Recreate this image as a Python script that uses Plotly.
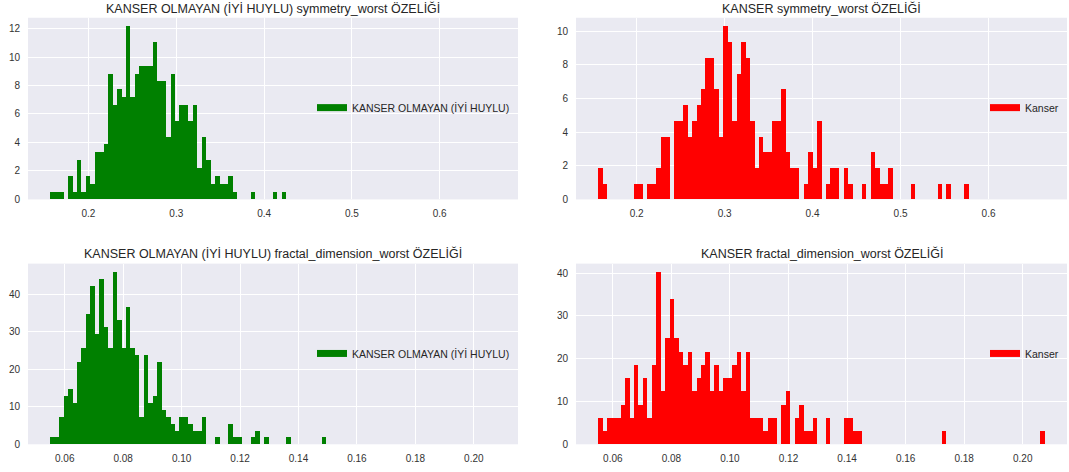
import numpy as np
import plotly.graph_objects as go

# ---------------- data (bin counts, 100 bins each) ----------------
N_BINS = 100
SYM_RANGE = [0.1565, 0.6638]      # symmetry_worst bin range
FD_RANGE = [0.05504, 0.2075]      # fractal_dimension_worst bin range

SYM_BENIGN = [
    1, 1, 1, 0, 3, 1, 5, 1, 3, 2,
    6, 6, 7, 16, 12, 14, 13, 22, 13, 16,
    17, 17, 17, 20, 15, 15, 8, 16, 10, 12,
    12, 10, 12, 4, 8, 5, 2, 3, 2, 2,
    3, 1, 0, 0, 0, 1, 0, 0, 0, 0,
    1, 0, 1, 0, 0, 0, 0, 0, 0, 0,
    0, 0, 0, 0, 0, 0, 0, 0, 0, 0,
    0, 0, 0, 0, 0, 0, 0, 0, 0, 0,
    0, 0, 0, 0, 0, 0, 0, 0, 0, 0,
    0, 0, 0, 0, 0, 0, 0, 0, 0, 0,
]
SYM_MALIGNANT = [
    2, 1, 0, 0, 0, 0, 0, 0, 1, 1,
    0, 1, 1, 2, 4, 4, 0, 5, 5, 6,
    4, 5, 6, 7, 9, 9, 7, 4, 11, 10,
    5, 8, 10, 9, 5, 2, 4, 3, 3, 5,
    5, 7, 3, 2, 2, 0, 1, 3, 2, 5,
    0, 1, 2, 2, 0, 2, 1, 0, 0, 1,
    0, 3, 2, 1, 1, 2, 0, 0, 0, 0,
    1, 0, 0, 0, 0, 0, 1, 0, 1, 0,
    0, 0, 1, 0, 0, 0, 0, 0, 0, 0,
    0, 0, 0, 0, 0, 0, 0, 0, 0, 0,
]
FD_BENIGN = [
    1, 1, 4, 7, 8, 6, 12, 14, 19, 23,
    16, 24, 17, 14, 25, 18, 14, 20, 14, 13,
    4, 13, 6, 7, 12, 5, 4, 3, 2, 4,
    4, 3, 2, 2, 4, 0, 0, 1, 0, 0,
    3, 1, 1, 0, 0, 1, 2, 0, 1, 0,
    0, 0, 0, 1, 0, 0, 0, 0, 0, 0,
    0, 1, 0, 0, 0, 0, 0, 0, 0, 0,
    0, 0, 0, 0, 0, 0, 0, 0, 0, 0,
    0, 0, 0, 0, 0, 0, 0, 0, 0, 0,
    0, 0, 0, 0, 0, 0, 0, 0, 0, 0,
]
FD_MALIGNANT = [
    2, 1, 2, 2, 2, 3, 5, 2, 6, 3,
    5, 2, 6, 13, 4, 8, 11, 8, 7, 6,
    7, 4, 5, 6, 7, 4, 6, 4, 5, 5,
    6, 7, 4, 7, 2, 2, 2, 1, 2, 2,
    0, 3, 4, 0, 2, 3, 1, 1, 2, 0,
    0, 2, 0, 0, 0, 2, 2, 1, 1, 0,
    0, 0, 0, 0, 0, 0, 0, 0, 0, 0,
    0, 0, 0, 0, 0, 0, 0, 1, 0, 0,
    0, 0, 0, 0, 0, 0, 0, 0, 0, 0,
    0, 0, 0, 0, 0, 0, 0, 0, 0, 1,
]

SYM_TICKS = [0.2, 0.3, 0.4, 0.5, 0.6]
SYM_TICK_LABELS = ["0.2", "0.3", "0.4", "0.5", "0.6"]
FD_TICKS = [0.06, 0.08, 0.10, 0.12, 0.14, 0.16, 0.18, 0.20]
FD_TICK_LABELS = ["0.06", "0.08", "0.10", "0.12", "0.14", "0.16", "0.18", "0.20"]

LABEL_B = "KANSER OLMAYAN (İYİ HUYLU)"
LABEL_M = "Kanser"
TITLES = [
    "KANSER OLMAYAN (İYİ HUYLU) symmetry_worst ÖZELİĞİ",
    "KANSER symmetry_worst ÖZELİĞİ",
    "KANSER OLMAYAN (İYİ HUYLU) fractal_dimension_worst ÖZELİĞİ",
    "KANSER fractal_dimension_worst ÖZELİĞİ",
]

GREEN = "#008000"
RED = "#FF0000"
FONT = "Liberation Sans, Arial, sans-serif"
TXT = "#262626"
W, H = 1069, 472


def density(counts, rng):
    c = np.asarray(counts, dtype=float)
    edges = np.linspace(rng[0], rng[1], N_BINS + 1)
    width = edges[1] - edges[0]
    centers = (edges[:-1] + edges[1:]) / 2
    return centers, c / (c.sum() * width), width


panels = [
    dict(counts=SYM_BENIGN, rng=SYM_RANGE, color=GREEN, name=LABEL_B, ticks=SYM_TICKS,
         tlabels=SYM_TICK_LABELS, dy=2, col=0, row=0),
    dict(counts=SYM_MALIGNANT, rng=SYM_RANGE, color=RED, name=LABEL_M, ticks=SYM_TICKS,
         tlabels=SYM_TICK_LABELS, dy=2, col=1, row=0),
    dict(counts=FD_BENIGN, rng=FD_RANGE, color=GREEN, name=LABEL_B, ticks=FD_TICKS,
         tlabels=FD_TICK_LABELS, dy=10, col=0, row=1),
    dict(counts=FD_MALIGNANT, rng=FD_RANGE, color=RED, name=LABEL_M, ticks=FD_TICKS,
         tlabels=FD_TICK_LABELS, dy=10, col=1, row=1),
]

X_DOM = [[28 / W, 518 / W], [576 / W, 1067 / W]]
Y_DOM = [[1 - 202 / H, 1 - 18 / H], [1 - 450 / H, 1 - 267 / H]]
TITLE_Y = [1 - 9 / H, 1 - 257 / H]
LEG_X = [312 / W, 985 / W]
LEG_Y = [1 - 109 / H, 1 - 358 / H]

fig = go.Figure()
layout = dict(
    width=W, height=H, margin=dict(l=0, r=0, t=0, b=0),
    paper_bgcolor="white", plot_bgcolor="#EAEAF2",
    font=dict(family=FONT, color=TXT),
    showlegend=True, bargap=0, annotations=[],
)

for i, p in enumerate(panels):
    n = "" if i == 0 else str(i + 1)
    xa, ya = "x" + n, "y" + n
    leg = "legend" + n
    centers, dens, width = density(p["counts"], p["rng"])
    fig.add_trace(go.Bar(x=centers, y=dens, width=width, marker=dict(color=p["color"], line=dict(width=0)),
                         xaxis=xa, yaxis=ya, showlegend=False, name=p["name"]))
    fig.add_trace(go.Scatter(x=[None], y=[None], mode="lines", line=dict(color=p["color"], width=7),
                             name=p["name"], xaxis=xa, yaxis=ya, legend=leg, showlegend=True))
    span = p["rng"][1] - p["rng"][0]
    xr = [p["rng"][0] - 0.05 * span, p["rng"][1] + 0.05 * span]
    ymax = float(dens.max()) * 1.05
    yt = list(np.arange(0, ymax, p["dy"]))
    axis_common = dict(showgrid=True, gridcolor="white", gridwidth=1, zeroline=False, showline=False,
                       ticks="outside", ticklen=5, tickcolor="rgba(0,0,0,0)",
                       tickfont=dict(size=10, color="#333333", family=FONT))
    layout["xaxis" + n] = dict(domain=X_DOM[p["col"]], anchor=ya, range=xr, tickvals=p["ticks"],
                               ticktext=p["tlabels"], **axis_common)
    layout["yaxis" + n] = dict(domain=Y_DOM[p["row"]], anchor=xa, range=[0, ymax], tickvals=yt,
                               ticktext=[str(int(v)) for v in yt], **axis_common)
    layout[leg] = dict(x=LEG_X[p["col"]], y=LEG_Y[p["row"]], xanchor="left", yanchor="middle",
                       bgcolor="rgba(0,0,0,0)", borderwidth=0,
                       font=dict(size=10.5, color=TXT, family=FONT))
    layout["annotations"].append(dict(text=TITLES[i], xref="paper", yref="paper",
                                      x=sum(X_DOM[p["col"]]) / 2, y=TITLE_Y[p["row"]],
                                      xanchor="center", yanchor="middle", showarrow=False,
                                      font=dict(size=12.5, color=TXT, family=FONT)))

fig.update_layout(**layout)
fig.write_html("out.html", config={"displayModeBar": False, "staticPlot": True},
               post_script="document.body.style.margin='0';document.body.style.overflow='hidden';")
